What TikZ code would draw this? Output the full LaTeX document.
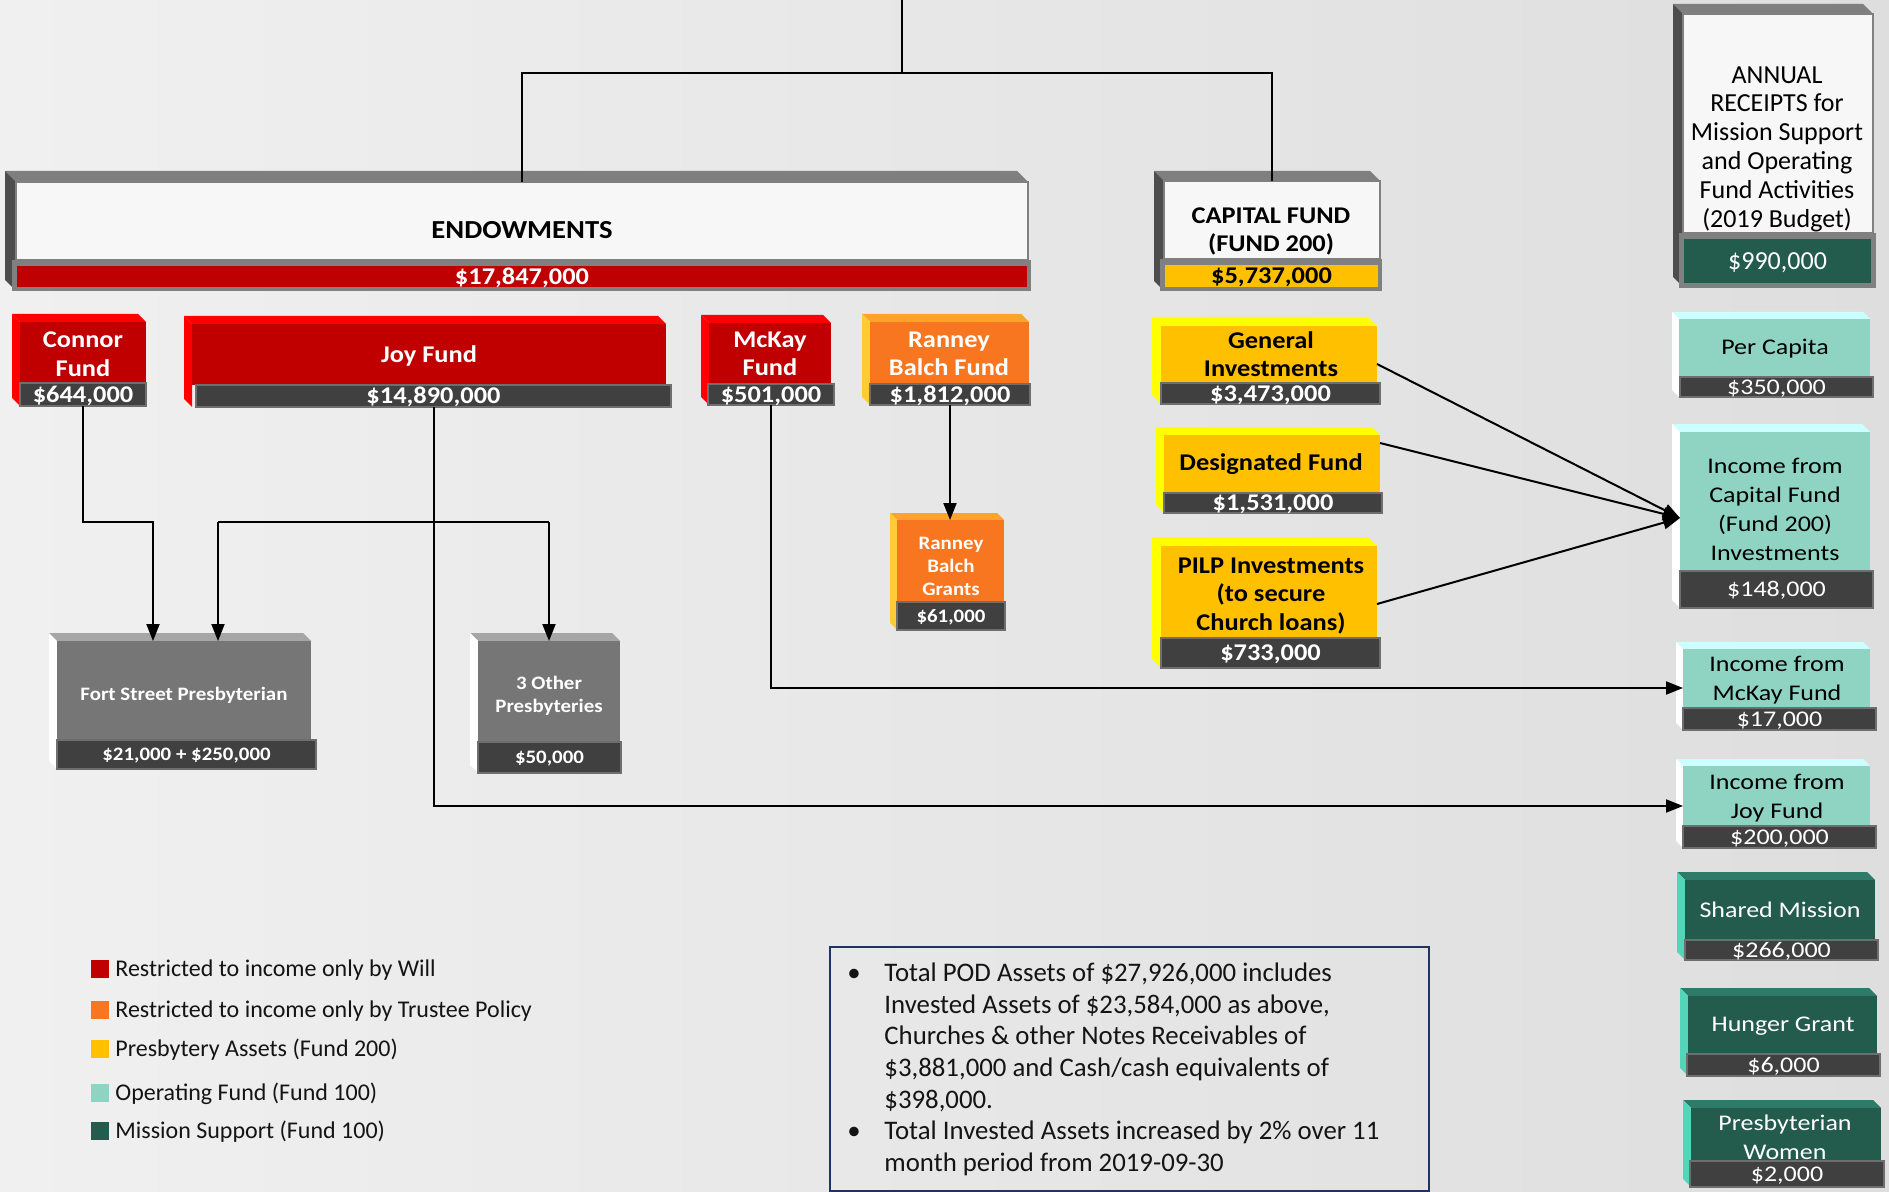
\documentclass[tikz,border=0pt]{standalone}
\usepackage{fontspec}
\setmainfont{Carlito}
\newfontfamily\stA[FakeStretch=1.1]{Carlito}
\newfontfamily\stB[FakeStretch=1.16]{Carlito}
\usetikzlibrary{arrows.meta,calc}

\definecolor{bgL}{HTML}{F0F0F0}
\definecolor{bgR}{HTML}{DEDEDE}
\definecolor{rTop}{HTML}{FF0000}
\definecolor{rFace}{HTML}{C00000}
\definecolor{oTop}{HTML}{FFA32B}
\definecolor{oLeft}{HTML}{FFCC33}
\definecolor{oFace}{HTML}{F8761F}
\definecolor{yTop}{HTML}{FFFF00}
\definecolor{yFace}{HTML}{FFC000}
\definecolor{gTop}{HTML}{A6A6A6}
\definecolor{gFace}{HTML}{767676}
\definecolor{wTop}{HTML}{7F7F7F}
\definecolor{wLeft}{HTML}{4D4D4D}
\definecolor{wFace}{HTML}{F7F7F7}
\definecolor{tTop}{HTML}{CCFFFF}
\definecolor{tFace}{HTML}{8FD4C2}
\definecolor{dTop}{HTML}{2E7B69}
\definecolor{dLeft}{HTML}{52D5B8}
\definecolor{dFace}{HTML}{235B4D}
\definecolor{barC}{HTML}{404040}
\definecolor{barE}{HTML}{6E6E6E}
\definecolor{frameC}{HTML}{808080}
\definecolor{navy}{HTML}{1F3461}
\definecolor{ink}{HTML}{141414}

\def\dd{9}
\newcommand\setcols[4]{\def\ctop{#1}\def\cleft{#2}\def\cface{#3}\def\fdraw{#4}}
% name, x0, y0, x1 (face right), ybar (face bottom), yend (outer bottom)
\newcommand\boxbody[6]{%
  \fill[fill=\ctop] (#2,#3) -- ({#4-\dd},#3) -- (#4,{#3+\dd}) -- ({#2+\dd},{#3+\dd}) -- cycle;
  \fill[fill=\cleft] (#2,#3) -- ({#2+\dd},{#3+\dd}) -- ({#2+\dd},#6) -- (#2,{#6-\dd}) -- cycle;
  \node[face, fill=\cface, draw=\fdraw, anchor=north west,
        minimum width={(#4-#2-\dd)*0.5pt}, minimum height={(#5-#3-\dd)*0.5pt}]
        (#1) at ({#2+\dd},{#3+\dd}) {};
}
% name, x0, y0, x1, y1, style, text
\newcommand\valbar[7]{%
  \node[#6, anchor=north west, minimum width={(#4-#2)*0.5pt}, minimum height={(#5-#3)*0.5pt}]
        (#1) at (#2,#3) {#7};
}

\tikzset{
  face/.style={inner sep=0pt, outer sep=0pt, line width=1pt},
  vbarS/.style={inner sep=0pt, outer sep=0pt, fill=barC, draw=barE, line width=0.6pt, text=white, text depth=0pt},
  bigV/.style={vbarS, font=\stA\bfseries\fontsize{12}{14}\selectfont, text height=7.7pt},
  smallV/.style={vbarS, font=\stA\bfseries\fontsize{9.5}{11}\selectfont, text height=6.1pt},
  tealV/.style={vbarS, font=\stB\fontsize{11.2}{13}\selectfont, text height=7.2pt},
  btxt/.style={align=center, inner sep=0pt, font=\stA\bfseries\fontsize{12}{14.3}\selectfont},
  stxt/.style={align=center, inner sep=0pt, text=white, font=\stA\bfseries\fontsize{9.5}{11.5}\selectfont},
  ttxt/.style={align=center, inner sep=0pt, font=\stB\fontsize{11.2}{14.5}\selectfont},
  line/.style={draw=black, line width=1pt},
  arr/.style={line, -{Triangle[length=8.5pt,width=6.5pt]}},
  legsq/.style={minimum size=9pt, inner sep=0pt, outer sep=0pt},
  legtxt/.style={anchor=west, inner sep=0pt, text=ink, font=\fontsize{12}{14}\selectfont, text height=7.7pt, text depth=0pt},
  notetxt/.style={inner sep=0pt, text=ink, font=\fontsize{13.4}{16}\selectfont},
}

\begin{document}
\begin{tikzpicture}[x=0.5pt, y=-0.5pt]
\useasboundingbox (0,0) rectangle (1889,1192);
\shade[left color=bgL, right color=bgR] (0,0) rectangle (1889,1192);

% ---------- ENDOWMENTS ----------
\def\dd{11}\setcols{wTop}{wLeft}{wFace}{frameC}
\boxbody{endow}{5}{171}{1028}{260}{291}
\fill[frameC] (12,260) rectangle (1031,291);
\valbar{endowV}{17}{266}{1027}{287}{bigV, fill=rFace, draw=none}{\$17,847,000}
\node[btxt, font=\stA\bfseries\fontsize{13}{15}\selectfont] (endowT) at (522,230) {ENDOWMENTS};

% ---------- CAPITAL FUND ----------
\def\dd{10}
\boxbody{capital}{1154}{171}{1380}{259}{291}
\fill[frameC] (1160,259) rectangle (1382,291);
\valbar{capitalV}{1165}{265}{1378}{287}{bigV, fill=yFace, draw=none, text=black}{\$5,737,000}
\node[btxt] (capitalT) at (1271,231.5) {CAPITAL FUND\\(FUND 200)};

% ---------- red funds ----------
\def\dd{8}\setcols{rTop}{rTop}{rFace}{none}
\boxbody{connor}{12}{314}{146}{383}{406}
\valbar{connorV}{20}{383}{146}{406}{bigV}{\$644,000}
\node[btxt, text=white] (connorT) at (83,354) {Connor\\Fund};

\boxbody{joy}{184}{316}{666}{385}{407}
\valbar{joyV}{196}{385}{671}{407}{bigV}{\$14,890,000}
\node[btxt, text=white] (joyT) at (429,356) {Joy Fund};

\boxbody{mckay}{701}{315}{831}{384}{405}
\valbar{mckayV}{708}{384}{834}{405}{bigV}{\$501,000}
\node[btxt, text=white] (mckayT) at (770,354) {McKay\\Fund};

% ---------- orange ----------
\setcols{oTop}{oLeft}{oFace}{none}
\boxbody{ranney}{862}{314}{1029}{384}{405}
\valbar{ranneyV}{870}{384}{1030}{405}{bigV}{\$1,812,000}
\node[btxt, text=white] (ranneyT) at (949,354) {Ranney\\Balch Fund};

\def\dd{7}
\boxbody{grants}{890}{513}{1004}{602}{630}
\valbar{grantsV}{897}{602}{1005}{630}{smallV}{\$61,000}
\node[stxt] (grantsT) at (951,566) {Ranney\\Balch\\Grants};

% ---------- yellow ----------
\def\dd{9}\setcols{yTop}{yTop}{yFace}{none}
\boxbody{gen}{1152}{317}{1377}{383}{404}
\valbar{genV}{1161}{383}{1380}{404}{bigV}{\$3,473,000}
\node[btxt] (genT) at (1271,354) {General\\Investments};

\def\dd{8}
\boxbody{desig}{1156}{427}{1380}{493}{513}
\valbar{desigV}{1164}{493}{1382}{513}{bigV}{\$1,531,000}
\node[btxt] (desigT) at (1271,464) {Designated Fund};

\def\dd{9}
\boxbody{pilp}{1152}{537}{1377}{638}{668}
\valbar{pilpV}{1161}{638}{1380}{668}{bigV}{\$733,000}
\node[btxt] (pilpT) at (1271,596) {PILP Investments\\(to secure\\Church loans)};

% ---------- gray recipients ----------
\def\dd{8}\setcols{gTop}{white}{gFace}{none}
\boxbody{fort}{49}{633}{311}{740}{769}
\valbar{fortV}{57}{740}{316}{769}{smallV}{\$21,000 + \$250,000}
\node[stxt] (fortT) at (184,695) {Fort Street Presbyterian};

\boxbody{other}{470}{633}{620}{742}{773}
\valbar{otherV}{478}{742}{621}{773}{smallV}{\$50,000}
\node[stxt] (otherT) at (549,696) {3 Other\\Presbyteries};

% ---------- ANNUAL RECEIPTS ----------
\def\dd{10}\setcols{wTop}{wLeft}{wFace}{frameC}
\boxbody{annual}{1673}{4}{1873}{233}{287}
\fill[frameC] (1679,233) rectangle (1876,288);
\valbar{annualV}{1684}{239}{1871}{283}{vbarS, fill=dFace, draw=none, font=\fontsize{13}{15}\selectfont, text height=8.4pt}{\$990,000}
\node[align=center, inner sep=0pt, font=\fontsize{13}{14.4}\selectfont] (annualT) at (1777,149)
  {ANNUAL\\RECEIPTS for\\Mission Support\\and Operating\\Fund Activities\\(2019 Budget)};

% ---------- operating fund (light teal) ----------
\def\dd{7}\setcols{tTop}{white}{tFace}{none}
\boxbody{perCap}{1672}{312}{1870}{377}{397}
\valbar{perCapV}{1680}{377}{1873}{397}{tealV}{\$350,000}
\node[ttxt] (perCapT) at (1775,349) {Per Capita};

\def\dd{8}
\boxbody{incCap}{1672}{424}{1870}{571}{608}
\valbar{incCapV}{1680}{571}{1873}{608}{tealV}{\$148,000}
\node[ttxt] (incCapT) at (1775,509) {Income from\\Capital Fund\\(Fund 200)\\Investments};

\def\dd{7}
\boxbody{incMck}{1676}{642}{1870}{708}{730}
\valbar{incMckV}{1683}{708}{1876}{730}{tealV}{\$17,000}
\node[ttxt] (incMckT) at (1777,680.5) {Income from\\McKay Fund};

\boxbody{incJoy}{1676}{759}{1870}{826}{848}
\valbar{incJoyV}{1683}{826}{1876}{848}{tealV}{\$200,000}
\node[ttxt] (incJoyT) at (1777,798.5) {Income from\\Joy Fund};

% ---------- mission support (dark teal) ----------
\def\dd{8}\setcols{dTop}{dLeft}{dFace}{none}
\boxbody{shared}{1677}{872}{1875}{940}{960}
\valbar{sharedV}{1685}{940}{1878}{960}{tealV}{\$266,000}
\node[ttxt, text=white] (sharedT) at (1780,910) {Shared Mission};

\boxbody{hunger}{1680}{988}{1877}{1054}{1076}
\valbar{hungerV}{1687}{1054}{1880}{1076}{tealV}{\$6,000}
\node[ttxt, text=white] (hungerT) at (1783,1026) {Hunger Grant};

\boxbody{women}{1683}{1100}{1881}{1161}{1187}
\valbar{womenV}{1690}{1161}{1884}{1187}{tealV}{\$2,000}
\node[ttxt, text=white] (womenT) at (1785,1137) {Presbyterian\\Women};

% ---------- connectors ----------
\coordinate (root) at (902,0);
\coordinate (rootJ) at (902,73.5);
\draw[line] (root) -- (rootJ);
\draw[line] (endow.north) |- (rootJ) -| (capital.north);

\coordinate (k1) at (153,522);
\coordinate (k2) at (218,522);
\coordinate (k3) at (549,522);
\coordinate (k4) at (0,806);
\coordinate (k5) at (0,688);
\draw[arr] (connorV.south) |- (k1) -- (k1 |- fort.north);
\draw[line] (k2) -- (k3);
\draw[arr] (k2) -- (k2 |- fort.north);
\draw[arr] (k3) -- (k3 |- other.north);
\draw[arr] (joyV.south) |- (incJoy.west |- k4);
\draw[arr] (mckayV.south) |- (incMck.west |- k5);
\draw[arr] (ranneyV.south) -- (ranneyV.south |- grants.north);

\coordinate (hub) at ([yshift=-8.25pt]incCap.west);
\draw[arr] ([yshift=-4.75pt]gen.east) -- (hub);
\draw[arr] ([yshift=10.5pt]desig.east) -- (hub);
\draw[arr] ([yshift=-6pt]pilp.east) -- (hub);

% ---------- legend ----------
\node[legsq, fill=rFace] (lg1) at (100,969) {};
\node[legtxt] (lg1t) at (115,969) {Restricted to income only by Will};
\node[legsq, fill=oFace] (lg2) at (100,1010) {};
\node[legtxt] (lg2t) at (115,1010) {Restricted to income only by Trustee Policy};
\node[legsq, fill=yFace] (lg3) at (100,1049) {};
\node[legtxt] (lg3t) at (115,1049) {Presbytery Assets (Fund 200)};
\node[legsq, fill=tFace] (lg4) at (100,1093) {};
\node[legtxt] (lg4t) at (115,1093) {Operating Fund (Fund 100)};
\node[legsq, fill=dFace] (lg5) at (100,1131) {};
\node[legtxt] (lg5t) at (115,1131) {Mission Support (Fund 100)};

% ---------- note ----------
\node[draw=navy, line width=1pt, inner sep=0pt, anchor=north west,
      minimum width=299.5pt, minimum height=122pt] (note) at (829,946) {};
\node[notetxt, anchor=base] (nb1) at (854,981.4) {•};
\node[notetxt, anchor=base west] (nl1) at (884,981.4) {Total POD Assets of \$27,926,000 includes};
\node[notetxt, anchor=base west] (nl2) at (884,1013.1) {Invested Assets of \$23,584,000 as above,};
\node[notetxt, anchor=base west] (nl3) at (884,1044.8) {Churches \& other Notes Receivables of};
\node[notetxt, anchor=base west] (nl4) at (884,1076.5) {\$3,881,000 and Cash/cash equivalents of};
\node[notetxt, anchor=base west] (nl5) at (884,1108.2) {\$398,000.};
\node[notetxt, anchor=base] (nb2) at (854,1139.9) {•};
\node[notetxt, anchor=base west] (nl6) at (884,1139.9) {Total Invested Assets increased by 2\% over 11};
\node[notetxt, anchor=base west] (nl7) at (884,1171.6) {month period from 2019-09-30};
\end{tikzpicture}
\end{document}
